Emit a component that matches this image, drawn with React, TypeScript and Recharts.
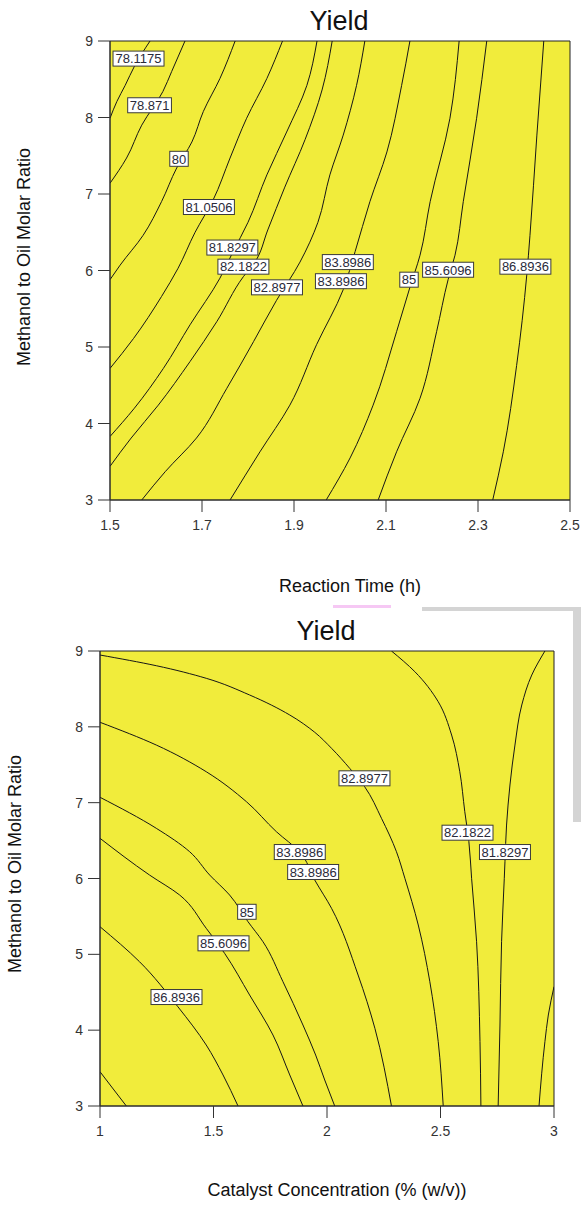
import React from 'react';
import { ComposedChart, Line, Scatter, XAxis, YAxis, CartesianGrid, ReferenceArea } from 'recharts';

// ---------- Chart 1: Reaction Time vs Methanol to Oil Molar Ratio ----------
const TOP_X_TICKS = [1.5, 1.7, 1.9, 2.1, 2.3, 2.5];
const Y_TICKS = [3, 4, 5, 6, 7, 8, 9];
const BOTTOM_X_TICKS = [1, 1.5, 2, 2.5, 3];

const rt78_1175 = [[1.587, 9], [1.554, 8.68], [1.533, 8.42], [1.515, 8.21], [1.5, 7.99]];
const rt78_871 = [[1.663, 9], [1.634, 8.6], [1.615, 8.34], [1.569, 7.9], [1.536, 7.47], [1.5, 7.14]];
const rt80 = [[1.772, 9], [1.739, 8.51], [1.703, 8.08], [1.678, 7.68], [1.645, 7.34], [1.612, 6.9], [1.572, 6.46], [1.522, 6.07], [1.5, 5.88]];
const rt81_0506 = [[1.875, 9], [1.841, 8.51], [1.797, 7.99], [1.761, 7.47], [1.724, 6.92], [1.685, 6.5], [1.648, 6.03], [1.612, 5.66], [1.551, 5.11], [1.5, 4.72]];
const rt81_8297 = [[1.95, 9], [1.928, 8.42], [1.884, 7.81], [1.841, 7.25], [1.8, 6.63], [1.767, 6.24], [1.739, 5.9], [1.674, 5.29], [1.616, 4.72], [1.553, 4.2], [1.5, 3.83]];
const rt82_1822 = [[1.983, 9], [1.961, 8.36], [1.924, 7.71], [1.88, 7.09], [1.843, 6.53], [1.815, 6.11], [1.79, 5.92], [1.732, 5.33], [1.674, 4.81], [1.605, 4.24], [1.546, 3.81], [1.5, 3.44]];
const rt82_8977 = [[2.054, 9], [2.036, 8.42], [2.007, 7.77], [1.978, 7.25], [1.952, 6.63], [1.913, 6.11], [1.862, 5.61], [1.812, 5.07], [1.754, 4.46], [1.688, 3.81], [1.62, 3.37], [1.569, 3]];
const rt83_8986 = [[2.152, 9], [2.134, 8.42], [2.102, 7.55], [2.065, 6.9], [2.033, 6.25], [2.007, 5.75], [1.949, 5.03], [1.891, 4.24], [1.826, 3.63], [1.761, 3]];
const rt85 = [[2.259, 9], [2.239, 7.99], [2.196, 6.9], [2.174, 6.2], [2.152, 5.78], [2.123, 5.2], [2.072, 4.24], [2.022, 3.55], [1.97, 3]];
const rt85_6096 = [[2.319, 9], [2.297, 7.99], [2.268, 6.9], [2.25, 6.2], [2.235, 5.88], [2.21, 5.2], [2.174, 4.33], [2.123, 3.63], [2.083, 3]];
const rt86_8936 = [[2.443, 9], [2.428, 7.77], [2.413, 6.46], [2.406, 5.94], [2.384, 4.76], [2.355, 3.63], [2.332, 3]];

const TOP_CONTOURS = [rt78_1175, rt78_871, rt80, rt81_0506, rt81_8297, rt82_1822, rt82_8977, rt83_8986, rt85, rt85_6096, rt86_8936];

const TOP_LABEL_X = [1.562, 1.586, 1.65, 1.715, 1.766, 1.79, 1.863, 2.017, 2.002, 2.15, 2.235, 2.403];
const TOP_LABEL_Y = [8.77, 8.16, 7.46, 6.83, 6.3, 6.05, 5.78, 6.11, 5.86, 5.88, 6.01, 6.05];
const TOP_LABEL_TEXT = ['78.1175', '78.871', '80', '81.0506', '81.8297', '82.1822', '82.8977', '83.8986', '83.8986', '85', '85.6096', '86.8936'];

// ---------- Chart 2: Catalyst Concentration vs Methanol to Oil Molar Ratio ----------
const cc82_8977 = [[1.0, 8.947], [1.248, 8.806], [1.468, 8.64], [1.659, 8.42], [1.836, 8.156], [1.946, 7.928], [2.02, 7.717], [2.1, 7.453], [2.166, 7.21], [2.24, 6.794], [2.306, 6.353], [2.343, 6.003], [2.402, 5.387], [2.453, 4.639], [2.49, 3.848], [2.512, 3]];
const cc83_8986 = [[1.0, 8.06], [1.248, 7.76], [1.468, 7.408], [1.645, 7.013], [1.777, 6.617], [1.88, 6.349], [1.946, 5.98], [2.02, 5.607], [2.137, 4.727], [2.211, 4.024], [2.284, 3]];
const cc85 = [[1.0, 7.071], [1.248, 6.662], [1.395, 6.353], [1.483, 6.046], [1.571, 5.782], [1.652, 5.43], [1.718, 5.166], [1.806, 4.639], [1.894, 4.068], [1.95, 3.672], [1.99, 3.343], [2.034, 3]];
const cc85_6096 = [[1.0, 6.53], [1.218, 6.046], [1.351, 5.782], [1.468, 5.343], [1.549, 5.013], [1.659, 4.464], [1.762, 3.936], [1.836, 3.409], [1.894, 3]];
const cc86_8936 = [[1.0, 5.364], [1.174, 4.903], [1.343, 4.309], [1.468, 3.804], [1.542, 3.409], [1.608, 3]];
const cc88_corner = [[1.0, 3.452], [1.055, 3.237], [1.116, 3]];
const cc82_1822 = [[2.284, 9], [2.387, 8.727], [2.49, 8.331], [2.549, 7.892], [2.585, 7.408], [2.607, 6.881], [2.625, 6.485], [2.637, 6.003], [2.659, 5.166], [2.674, 3.848], [2.678, 3]];
const cc81_8297 = [[2.96, 9], [2.902, 8.683], [2.858, 8.288], [2.828, 7.76], [2.806, 7.233], [2.791, 6.705], [2.784, 6.221], [2.781, 6.003], [2.769, 5.166], [2.762, 4.068], [2.754, 3]];
const cc81_right = [[3.0, 4.573], [2.975, 4.2], [2.96, 3.848], [2.934, 3]];

const BOTTOM_CONTOURS = [cc82_8977, cc83_8986, cc85, cc85_6096, cc86_8936, cc88_corner, cc82_1822, cc81_8297, cc81_right];

const BOTTOM_LABEL_X = [2.165, 1.88, 1.939, 1.647, 1.544, 1.337, 2.619, 2.784];
const BOTTOM_LABEL_Y = [7.321, 6.349, 6.086, 5.561, 5.145, 4.437, 6.604, 6.349];
const BOTTOM_LABEL_TEXT = ['82.8977', '83.8986', '83.8986', '85', '85.6096', '86.8936', '82.1822', '81.8297'];

const YELLOW = '#F1EC3B';
const FONT = '"Liberation Sans", Arial, sans-serif';
const AXIS_COLOR = '#333';

const toPts = (arr: number[][]) => arr.map(([x, y]) => ({ x, y }));
const toLabels = (xs: number[], ys: number[], ts: string[]) => xs.map((x, i) => ({ x, y: ys[i], text: ts[i] }));

const textWidth = (s: string) => {
  let w = 0;
  for (const ch of s) w += ch === '.' ? 3.6 : 7.23;
  return w;
};

const LabelBox = (props: any) => {
  const { cx, cy, payload } = props;
  if (cx == null || cy == null || !payload) return <g />;
  const w = textWidth(payload.text) + 4;
  const h = 15;
  return (
    <g>
      <rect x={cx - w / 2} y={cy - h / 2} width={w} height={h} fill="#fff" stroke="#3a3a3a" strokeWidth={1} />
      <text x={cx} y={cy + 4.8} textAnchor="middle" fontFamily={FONT} fontSize={13} fill="#2a2a3a">
        {payload.text}
      </text>
    </g>
  );
};

const XTick = (p: any) => (
  <text x={p.x} y={p.y} dy={14} textAnchor="middle" fontFamily={FONT} fontSize={14} fill="#333">
    {String(p.payload.value)}
  </text>
);

const YTick = (p: any) => (
  <text x={p.x} y={p.y} dy={5} textAnchor="end" fontFamily={FONT} fontSize={14} fill="#333">
    {String(p.payload.value)}
  </text>
);

function ContourChart(props: {
  width: number; height: number; margin: any; yWidth: number;
  xDomain: [number, number]; xTicks: number[]; contours: number[][][]; labels: any[];
}) {
  const { width, height, margin, yWidth, xDomain, xTicks, contours, labels } = props;
  return (
    <ComposedChart width={width} height={height} margin={margin}>
      <CartesianGrid horizontal={false} vertical={false} fill={YELLOW} fillOpacity={1} stroke="none" />
      <XAxis
        dataKey="x" type="number" domain={xDomain} ticks={xTicks} allowDataOverflow
        height={40} tickSize={12} tickMargin={4} tick={XTick}
        axisLine={{ stroke: AXIS_COLOR }} tickLine={{ stroke: AXIS_COLOR }} interval={0}
      />
      <YAxis
        dataKey="y" type="number" domain={[3, 9]} ticks={Y_TICKS} allowDataOverflow
        width={yWidth} tickSize={12} tickMargin={5} tick={YTick}
        axisLine={{ stroke: AXIS_COLOR }} tickLine={{ stroke: AXIS_COLOR }} interval={0}
      />
      {contours.map((c, i) => (
        <Line
          key={'c' + i} data={toPts(c)} dataKey="y" type="monotoneY" stroke="#161616" strokeWidth={1}
          dot={false} activeDot={false} isAnimationActive={false} legendType="none"
        />
      ))}
      <ReferenceArea x1={xDomain[0]} x2={xDomain[1]} y1={3} y2={9} fill="none" stroke="#222" strokeWidth={1} ifOverflow="visible" />
      <Scatter data={labels} dataKey="y" shape={LabelBox} isAnimationActive={false} legendType="none" />
    </ComposedChart>
  );
}

export default function App() {
  const topLabels = toLabels(TOP_LABEL_X, TOP_LABEL_Y, TOP_LABEL_TEXT);
  const bottomLabels = toLabels(BOTTOM_LABEL_X, BOTTOM_LABEL_Y, BOTTOM_LABEL_TEXT);
  return (
    <div style={{ position: 'absolute', left: 0, top: 0, width: 581, height: 1205, background: '#fff', overflow: 'hidden' }}>
      <div style={{ position: 'absolute', left: 0, top: 0 }}>
        <ContourChart
          width={581} height={600} margin={{ top: 41, right: 11, bottom: 60, left: 0 }} yWidth={110}
          xDomain={[1.5, 2.5]} xTicks={TOP_X_TICKS} contours={TOP_CONTOURS} labels={topLabels}
        />
      </div>
      <div style={{ position: 'absolute', left: 0, top: 600 }}>
        <ContourChart
          width={581} height={605} margin={{ top: 51, right: 27, bottom: 59, left: 0 }} yWidth={100}
          xDomain={[1, 3]} xTicks={BOTTOM_X_TICKS} contours={BOTTOM_CONTOURS} labels={bottomLabels}
        />
      </div>
      <svg width={581} height={1205} style={{ position: 'absolute', left: 0, top: 0, pointerEvents: 'none' }}>
        <rect x={333} y={605} width={58} height={3} fill="#f6c8f4" />
        <rect x={422} y={607} width={159} height={4} fill="#d4d4d4" />
        <rect x={573} y={607} width={8} height={215} fill="#d4d4d4" />
        <text x={339} y={30} textAnchor="middle" fontFamily={FONT} fontSize={27} fill="#111">Yield</text>
        <text x={326} y={640} textAnchor="middle" fontFamily={FONT} fontSize={27} fill="#111">Yield</text>
        <text x={350} y={592} textAnchor="middle" fontFamily={FONT} fontSize={18} fill="#111">Reaction Time (h)</text>
        <text x={337} y={1196} textAnchor="middle" fontFamily={FONT} fontSize={18} fill="#111">Catalyst Concentration (% (w/v))</text>
        <text transform="translate(30,257) rotate(-90)" textAnchor="middle" fontFamily={FONT} fontSize={18} fill="#111">Methanol to Oil Molar Ratio</text>
        <text transform="translate(21,864) rotate(-90)" textAnchor="middle" fontFamily={FONT} fontSize={18} fill="#111">Methanol to Oil Molar Ratio</text>
      </svg>
    </div>
  );
}
